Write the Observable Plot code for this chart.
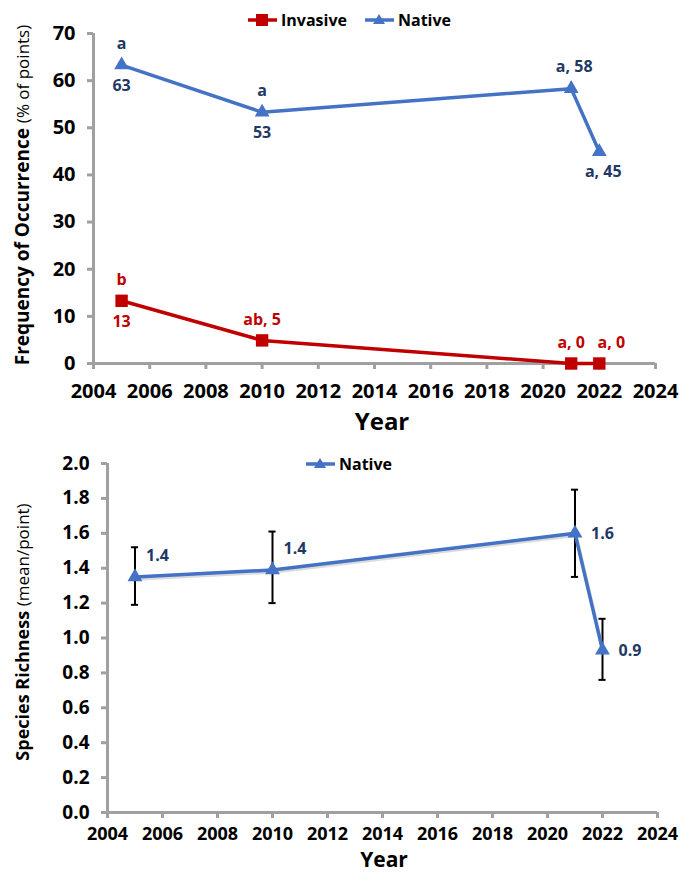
<!DOCTYPE html>
<html>
<head>
<meta charset="utf-8">
<script src="https://cdn.jsdelivr.net/npm/d3@7"></script>
<script src="https://cdn.jsdelivr.net/npm/@observablehq/plot@0.6"></script>
<style>
  html, body { margin: 0; padding: 0; background: #fff; }
  #wrap { position: relative; width: 682px; height: 873px; overflow: hidden; font-family: "Open Sans", sans-serif; }
  #top, #bottom { position: absolute; left: 0; }
  #top { top: 0; }
  #bottom { top: 440px; }
  .legend { position: absolute; display: flex; align-items: center; font-weight: bold; font-size: 16px; color: #000; white-space: nowrap; }
  .legend .item { display: flex; align-items: center; margin-right: 18px; }
  .legend svg { margin-right: 4px; }
</style>
</head>
<body>
<div id="wrap">
  <div id="top"></div>
  <div id="bottom"></div>
</div>
<script>
// ---- data ----
const years = [2005, 2010, 2021, 2022];
const nativeFreq = [63.3, 53.3, 58.3, 44.9];
const invasiveFreq = [13.3, 4.9, 0, 0];
const nativeLabelAbove = ["a", "a", "a, 58", ""];
const nativeLabelBelow = ["63", "53", "", "a, 45"];
const invasiveLabelAbove = ["b", "ab, 5", "a, 0", "a, 0"];
const invasiveLabelBelow = ["13", "", "", ""];

const richMean = [1.35, 1.39, 1.60, 0.93];
const richLow = [1.19, 1.20, 1.35, 0.76];
const richHigh = [1.52, 1.61, 1.85, 1.11];
const richLabel = ["1.4", "1.4", "1.6", "0.9"];

const xTicks = [2004, 2006, 2008, 2010, 2012, 2014, 2016, 2018, 2020, 2022, 2024];
const yTicksTop = [0, 10, 20, 30, 40, 50, 60, 70];
const yTicksBottom = [0, 0.2, 0.4, 0.6, 0.8, 1.0, 1.2, 1.4, 1.6, 1.8, 2.0];

// ---- styles ----
const BLUE = "#4472C4", RED = "#C00000", NAVY = "#1F3864", GRAY = "#A0A0A0";
const FONT = "Open Sans, sans-serif";

const native = years.map((year, i) => ({year, v: nativeFreq[i], above: nativeLabelAbove[i], below: nativeLabelBelow[i], i}));
const invasive = years.map((year, i) => ({year, v: invasiveFreq[i], above: invasiveLabelAbove[i], below: invasiveLabelBelow[i], i}));
const rich = years.map((year, i) => ({year, v: richMean[i], lo: richLow[i], hi: richHigh[i], label: richLabel[i], i}));

const lab = {fontSize: 16, fontWeight: "bold", fontFamily: FONT};

const topPlot = Plot.plot({
  width: 682, height: 440,
  marginTop: 33, marginBottom: 77, marginLeft: 93, marginRight: 27,
  style: {fontFamily: FONT, background: "#fff", overflow: "visible"},
  x: {domain: [2004, 2024]},
  y: {domain: [0, 70]},
  marks: [
    Plot.axisX({ticks: xTicks, tickFormat: d => String(d), tickSize: 6, tickPadding: 14, stroke: GRAY, strokeWidth: 3, fontSize: 20, fontWeight: "bold", fill: "#000", label: null}),
    Plot.axisY({ticks: yTicksTop, tickSize: 6, tickPadding: 12, stroke: GRAY, strokeWidth: 3, fontSize: 20, fontWeight: "bold", fill: "#000", label: null}),
    Plot.ruleY([0], {stroke: GRAY, strokeWidth: 3}),
    Plot.ruleX([2004], {stroke: GRAY, strokeWidth: 3}),
    Plot.line(native, {x: "year", y: "v", stroke: BLUE, strokeWidth: 3.5}),
    Plot.dot(native, {x: "year", y: "v", symbol: "triangle", r: 5.5, fill: BLUE}),
    Plot.line(invasive, {x: "year", y: "v", stroke: RED, strokeWidth: 3.5}),
    Plot.dot(invasive, {x: "year", y: "v", symbol: "square", r: 7, fill: RED}),
    Plot.text(native.filter(d => d.i < 2), {x: "year", y: "v", text: "above", dy: -21, fill: NAVY, ...lab}),
    Plot.text(native.filter(d => d.i === 2), {x: "year", y: "v", text: "above", dy: -22, dx: 3, fill: NAVY, ...lab}),
    Plot.text(native.filter(d => d.i < 2), {x: "year", y: "v", text: "below", dy: 21, fill: NAVY, ...lab}),
    Plot.text(native.filter(d => d.i === 3), {x: "year", y: "v", text: "below", dy: 20, dx: 4, fill: NAVY, ...lab}),
    Plot.text(invasive.filter(d => d.i < 3), {x: "year", y: "v", text: "above", dy: -21, fill: RED, ...lab}),
    Plot.text(invasive.filter(d => d.i === 3), {x: "year", y: "v", text: "above", dy: -21, dx: 12, fill: RED, ...lab}),
    Plot.text(invasive.filter(d => d.i === 0), {x: "year", y: "v", text: "below", dy: 21, fill: RED, ...lab})
  ]
});

const bottomPlot = Plot.plot({
  width: 682, height: 433,
  marginTop: 23, marginBottom: 61, marginLeft: 107, marginRight: 25,
  style: {fontFamily: FONT, background: "#fff", overflow: "visible"},
  x: {domain: [2004, 2024]},
  y: {domain: [0, 2]},
  marks: [
    Plot.axisX({ticks: xTicks, tickFormat: d => String(d), tickSize: 6, tickPadding: 9, stroke: GRAY, strokeWidth: 3, fontSize: 18, fontWeight: "bold", fill: "#000", label: null}),
    Plot.axisY({ticks: yTicksBottom, tickFormat: d => d.toFixed(1), tickSize: 6, tickPadding: 12, stroke: GRAY, strokeWidth: 3, fontSize: 19, fontWeight: "bold", fill: "#000", label: null}),
    Plot.ruleY([0], {stroke: GRAY, strokeWidth: 3}),
    Plot.ruleX([2004], {stroke: GRAY, strokeWidth: 3}),
    Plot.ruleX(rich, {x: "year", y1: "lo", y2: "hi", stroke: "#000", strokeWidth: 2}),
    Plot.ruleY(rich, {y: "lo", x1: d => d.year - 0.13, x2: d => d.year + 0.13, stroke: "#000", strokeWidth: 2}),
    Plot.ruleY(rich, {y: "hi", x1: d => d.year - 0.13, x2: d => d.year + 0.13, stroke: "#000", strokeWidth: 2}),
    Plot.line(rich, {x: "year", y: "v", stroke: "#999", strokeOpacity: 0.35, strokeWidth: 3.5, dx: 1, dy: 2}),
    Plot.line(rich, {x: "year", y: "v", stroke: BLUE, strokeWidth: 3.5}),
    Plot.dot(rich, {x: "year", y: "v", symbol: "triangle", r: 5.5, fill: BLUE}),
    Plot.text(rich.filter(d => d.i < 2), {x: "year", y: "v", text: "label", textAnchor: "start", dx: 11, dy: -21, fill: NAVY, ...lab}),
    Plot.text(rich.filter(d => d.i >= 2), {x: "year", y: "v", text: "label", textAnchor: "start", dx: 16, dy: 1, fill: NAVY, ...lab})
  ]
});

document.getElementById("top").appendChild(topPlot);
document.getElementById("bottom").appendChild(bottomPlot);

// axis titles
function yTitle(svgNode, cx, cy, boldText, normalText, boldSize, normalSize) {
  const t = d3.select(svgNode).append("text")
    .attr("transform", `translate(${cx},${cy}) rotate(-90)`)
    .attr("text-anchor", "middle")
    .attr("dominant-baseline", "central")
    .attr("font-family", FONT)
    .attr("fill", "#000");
  t.append("tspan").attr("font-weight", "bold").attr("font-size", boldSize).text(boldText);
  t.append("tspan").attr("font-weight", "normal").attr("font-size", normalSize).text(normalText);
}
function xTitle(svgNode, cx, cy, text, size) {
  d3.select(svgNode).append("text")
    .attr("x", cx).attr("y", cy)
    .attr("text-anchor", "middle")
    .attr("dominant-baseline", "central")
    .attr("font-family", FONT)
    .attr("font-weight", "bold")
    .attr("font-size", size)
    .attr("fill", "#000")
    .text(text);
}
yTitle(topPlot, 22, 195, "Frequency of Occurrence ", "(% of points)", 19, 17);
xTitle(topPlot, 382, 420, "Year", 24);
yTitle(bottomPlot, 22, 192, "Species Richness ", "(mean/point)", 18, 17);
xTitle(bottomPlot, 384, 419, "Year", 21);

// legends
function legend(left, top, items) {
  const div = document.createElement("div");
  div.className = "legend";
  div.style.left = left + "px";
  div.style.top = top + "px";
  items.forEach(it => {
    const item = document.createElement("div");
    item.className = "item";
    const sym = it.symbol === "square"
      ? `<rect x="8" y="3" width="12" height="12" fill="${it.color}"/>`
      : `<path d="M14,3 L20,13 L8,13 Z" fill="${it.color}"/>`;
    item.innerHTML = `<svg width="29" height="18"><line x1="0" y1="9" x2="29" y2="9" stroke="${it.color}" stroke-width="3.5"/>${sym}</svg><span>${it.name}</span>`;
    div.appendChild(item);
  });
  document.getElementById("wrap").appendChild(div);
}
legend(248, 9, [{name: "Invasive", color: RED, symbol: "square"}, {name: "Native", color: BLUE, symbol: "triangle"}]);
legend(306, 453, [{name: "Native", color: BLUE, symbol: "triangle"}]);
</script>
</body>
</html>
